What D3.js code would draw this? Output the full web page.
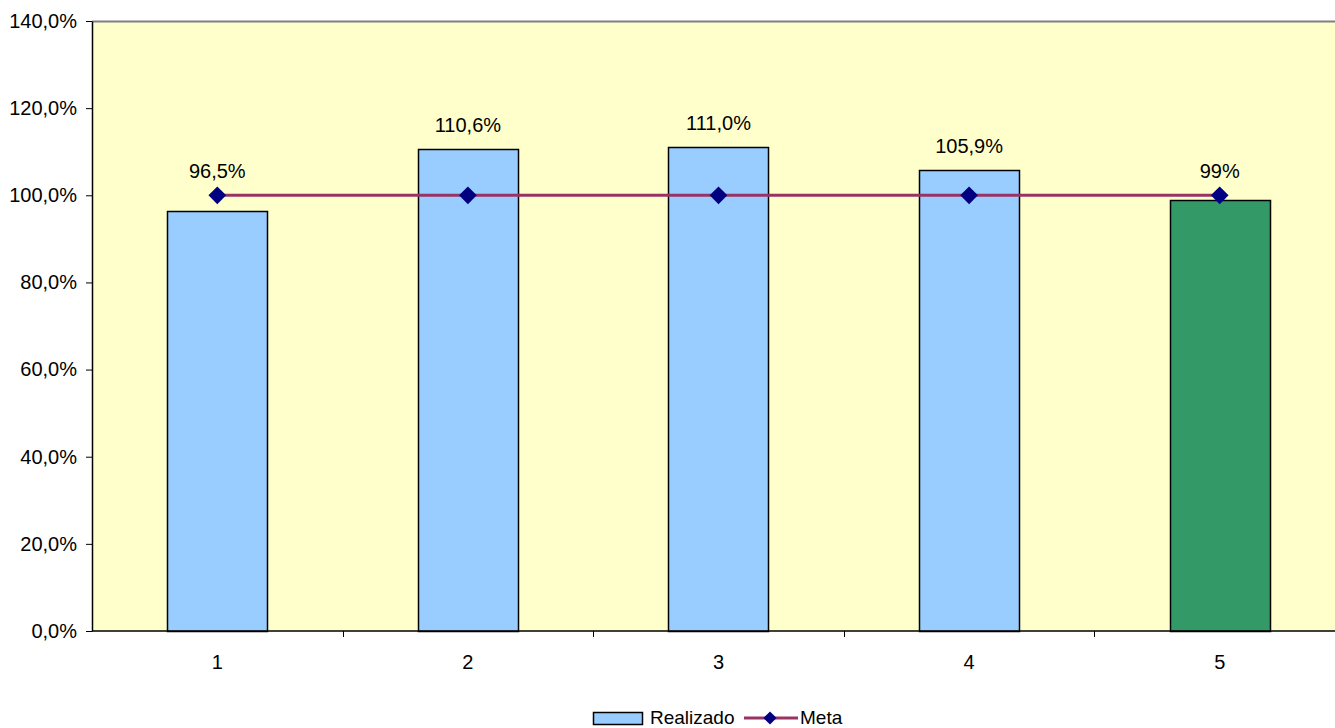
<!DOCTYPE html>
<html>
<head>
<meta charset="utf-8">
<script src="https://cdn.jsdelivr.net/npm/d3@7"></script>
<style>
  body { margin: 0; background: #fff; }
  svg text { font-family: "Liberation Sans", Arial, sans-serif; fill: #000; }
</style>
</head>
<body>
<svg id="chart"></svg>
<script>
const categories = ['1', '2', '3', '4', '5']
const realizado = [96.5, 110.6, 111.0, 105.9, 99]
const meta = [100, 100, 100, 100, 100]
const labels = ['96,5%', '110,6%', '111,0%', '105,9%', '99%']
const barColors = ['#99ccff', '#99ccff', '#99ccff', '#99ccff', '#339966']
const yTicks = [0, 20, 40, 60, 80, 100, 120, 140]

const width = 1335, height = 728
const margins = { top: 21, left: 92, bottom: 97, right: -10 }
const innerW = width - margins.left - margins.right
const innerH = height - margins.top - margins.bottom
const fs = 20

const svg = d3.select('#chart').attr('width', width).attr('height', height)
const g = svg.append('g').attr('transform', `translate(${margins.left}, ${margins.top})`)

const x = d3.scaleBand().domain(categories).range([0, innerW]).paddingInner(0.6).paddingOuter(0.3)
const xStep = d3.scaleBand().domain(categories).range([0, innerW])
const y = d3.scaleLinear().domain([0, 140]).range([innerH, 0])
const fmt = v => d3.format('.1f')(v).replace('.', ',') + '%'

// plot background
g.append('rect')
    .attr('width', innerW).attr('height', innerH)
    .attr('fill', '#ffffcc')
g.append('line')
    .attr('x1', 0).attr('x2', innerW).attr('y1', 0.5).attr('y2', 0.5)
    .attr('stroke', '#808080').attr('stroke-width', 2)

// bars
g.selectAll('.bar').data(realizado).join('rect')
    .attr('class', 'bar')
    .attr('x', (d, i) => Math.round(x(categories[i])) + 0.5)
    .attr('y', d => Math.round(y(d)) + 0.5)
    .attr('width', Math.round(x.bandwidth()))
    .attr('height', d => innerH - Math.round(y(d)))
    .attr('fill', (d, i) => barColors[i])
    .attr('stroke', '#000').attr('stroke-width', 1.5)

// y axis
const yAxis = g.append('g')
    .call(d3.axisLeft(y).tickValues(yTicks).tickFormat(fmt).tickSize(6).tickSizeOuter(0))
yAxis.select('.domain').attr('stroke', '#000').attr('stroke-width', 1.5)
yAxis.selectAll('.tick line').attr('stroke', '#000')
yAxis.selectAll('text').attr('font-size', fs).attr('x', -15)

// x axis
const xAxis = g.append('g').attr('transform', `translate(0, ${innerH})`)
xAxis.append('line')
    .attr('x1', 0).attr('x2', innerW).attr('stroke', '#000').attr('stroke-width', 1.5)
xAxis.selectAll('.xtick').data(categories.slice(1)).join('line')
    .attr('x1', d => Math.round(xStep(d)) + 0.5).attr('x2', d => Math.round(xStep(d)) + 0.5)
    .attr('y1', 0).attr('y2', 6).attr('stroke', '#000')
xAxis.selectAll('.xlabel').data(categories).join('text')
    .attr('x', d => xStep(d) + xStep.bandwidth() / 2)
    .attr('y', 38)
    .attr('text-anchor', 'middle').attr('font-size', fs)
    .text(d => d)

// meta line
const cx = (d, i) => xStep(categories[i]) + xStep.bandwidth() / 2
g.append('path')
    .datum(meta)
    .attr('d', d3.line().x(cx).y(d => y(d)))
    .attr('fill', 'none').attr('stroke', '#993366').attr('stroke-width', 3)
g.selectAll('.dia').data(meta).join('path')
    .attr('transform', (d, i) => `translate(${cx(d, i)}, ${y(d)})`)
    .attr('d', d3.symbol(d3.symbolDiamond2, 200))
    .attr('fill', '#000080')

// value labels
g.selectAll('.lab').data(realizado).join('text')
    .attr('x', (d, i) => cx(d, i))
    .attr('y', (d, i) => Math.min(y(d), y(meta[i])) - 17)
    .attr('text-anchor', 'middle').attr('font-size', fs)
    .text((d, i) => labels[i])

// legend
const leg = svg.append('g').attr('transform', 'translate(593, 718)')
leg.append('rect').attr('x', 0.5).attr('y', -5.5).attr('width', 49).attr('height', 12)
    .attr('fill', '#99ccff').attr('stroke', '#000').attr('stroke-width', 1.5)
leg.append('text').attr('x', 57).attr('y', 6).attr('font-size', 19).text('Realizado')
leg.append('line').attr('x1', 151).attr('x2', 205).attr('y1', 0).attr('y2', 0)
    .attr('stroke', '#993366').attr('stroke-width', 3)
leg.append('path').attr('transform', 'translate(177, 0)')
    .attr('d', d3.symbol(d3.symbolDiamond2, 110)).attr('fill', '#000080')
leg.append('text').attr('x', 207).attr('y', 6).attr('font-size', 19).text('Meta')
</script>
</body>
</html>
